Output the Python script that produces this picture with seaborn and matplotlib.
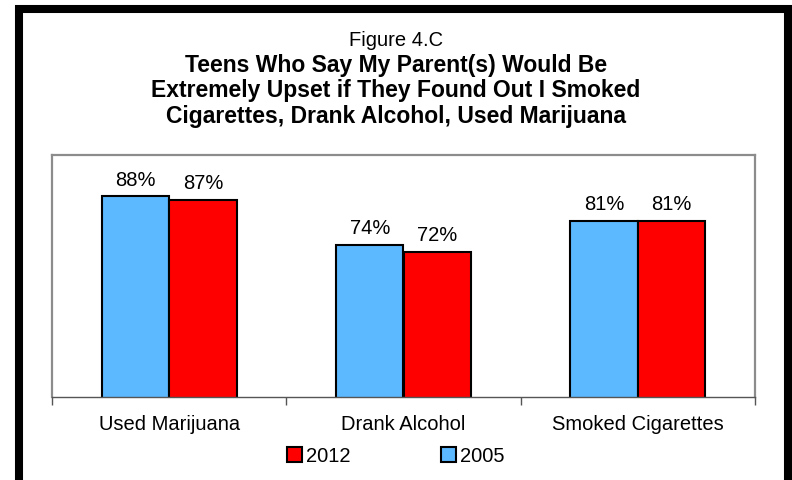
import matplotlib
matplotlib.use("Agg")
import matplotlib.pyplot as plt
from matplotlib.patches import Patch, Rectangle
import seaborn as sns
import pandas as pd

# ---- data ----
categories = ["Used Marijuana", "Drank Alcohol", "Smoked Cigarettes"]
years = ["2005", "2012"]
values_2005 = [88, 74, 81]
values_2012 = [87, 72, 81]
legend_order = ["2012", "2005"]

title_small = "Figure 4.C"
title_main = ("Teens Who Say My Parent(s) Would Be\n"
              "Extremely Upset if They Found Out I Smoked\n"
              "Cigarettes, Drank Alcohol, Used Marijuana")

colors = {"2005": "#5CB8FF", "2012": "#FF0000"}

df = pd.DataFrame({
    "category": categories * 2,
    "year": [years[0]] * len(categories) + [years[1]] * len(categories),
    "value": values_2005 + values_2012,
})

sns.set_theme(style="white")
plt.rcParams["font.family"] = ["Liberation Sans", "DejaVu Sans"]
plt.rcParams["text.color"] = "black"
plt.rcParams["xtick.labelcolor"] = "black"

W, H = 792, 480
fig = plt.figure(figsize=(W / 100, H / 100), dpi=100)
fig.patch.set_facecolor("white")

left, right, top, bottom = 52, 755, 155, 397
ax = fig.add_axes([left / W, 1 - bottom / H, (right - left) / W, (bottom - top) / H])

sns.barplot(data=df, x="category", y="value", hue="year", hue_order=years,
            order=categories, palette=colors, width=0.575, saturation=1,
            edgecolor="black", linewidth=1.5, legend=False, ax=ax)

ax.set_ylim(30, 100)
ax.set_xlim(-0.5, len(categories) - 0.5)
ax.set_xlabel("")
ax.set_ylabel("")
ax.set_yticks([])

# category boundaries as ticks, labels on minor ticks
ax.set_xticks([i - 0.5 for i in range(len(categories) + 1)])
ax.set_xticklabels([])
ax.tick_params(axis="x", which="major", direction="out", length=6, width=1,
               color="#555555", bottom=True)
ax.set_xticks(range(len(categories)), minor=True)
ax.set_xticklabels(categories, minor=True, fontsize=14.5, color="black")
ax.tick_params(axis="x", which="minor", length=0, pad=13)

for s in ["left", "top", "right"]:
    ax.spines[s].set_color("#8C8C8C")
    ax.spines[s].set_linewidth(1.6)
ax.spines["bottom"].set_color("#555555")
ax.spines["bottom"].set_linewidth(1.0)

for cont in ax.containers:
    ax.bar_label(cont, labels=[f"{int(round(b.get_height()))}%" for b in cont],
                 padding=5, fontsize=14.5, color="black")

# legend
handles = [Patch(facecolor=colors[y], edgecolor="black", linewidth=1.5, label=y)
           for y in legend_order]
fig.legend(handles=handles, loc="center", bbox_to_anchor=(0.5, 1 - 456 / H),
           ncol=2, frameon=False, fontsize=14.5, handlelength=0.75,
           handleheight=0.75, handletextpad=0.2, columnspacing=4.5,
           labelcolor="black")

# titles
fig.text(0.5, 1 - 40 / H, title_small, ha="center", va="center", fontsize=14.5,
         color="black")
fig.text(0.5, 1 - 91 / H, title_main, ha="center", va="center", fontsize=16.5,
         fontweight="bold", linespacing=1.12, color="black")

# outer frame
fig.patches.append(Rectangle((19 / W, -0.1), (788 - 19) / W, 1.1 - 9 / H,
                             transform=fig.transFigure, fill=False,
                             edgecolor="black", linewidth=5.8))

fig.savefig("out.png", dpi=100, facecolor="white")
